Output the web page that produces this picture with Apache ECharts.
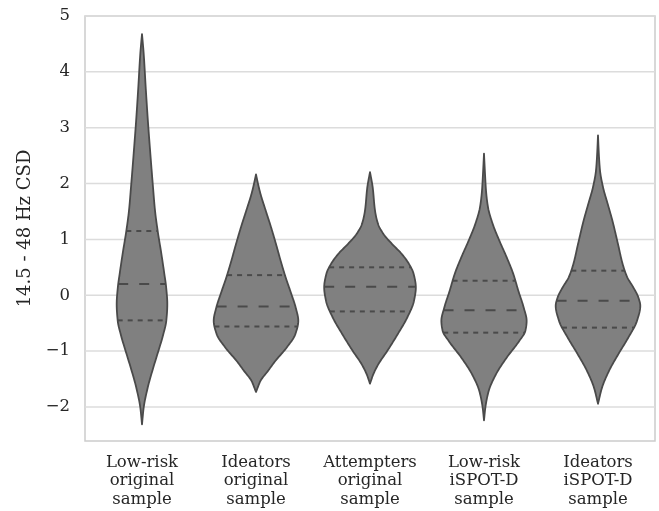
<!DOCTYPE html>
<html>
<head>
<meta charset="utf-8">
<script src="https://cdn.jsdelivr.net/npm/echarts@6/dist/echarts.min.js"></script>
<style>
html,body{margin:0;padding:0;background:#fff;}
#chart{width:659px;height:511px;}
</style>
</head>
<body>
<div id="chart"></div>
<script>
// Categories (x tick labels)
const categories = [
  'Low-risk\noriginal\nsample',
  'Ideators\noriginal\nsample',
  'Attempters\noriginal\nsample',
  'Low-risk\niSPOT-D\nsample',
  'Ideators\niSPOT-D\nsample'
];

// Y tick values
const yTicks = [-2, -1, 0, 1, 2, 3, 4, 5];

// Density profiles: [value, half-width as fraction of category band]
const lowRiskOriginal = [[4.677,0],[4.330,0.0146],[3.731,0.0322],[3.133,0.0512],[2.535,0.0731],[1.935,0.0965],[1.517,0.114],[1.158,0.137],[0.740,0.170],[0.381,0.196],[0.140,0.212],[-0.158,0.222],[-0.458,0.213],[-0.697,0.187],[-1.056,0.135],[-1.296,0.099],[-1.655,0.050],[-2.014,0.0146],[-2.312,0]];
const ideatorsOriginal = [[2.163,0],[1.996,0.0175],[1.817,0.039],[1.517,0.085],[1.217,0.132],[0.919,0.175],[0.619,0.216],[0.320,0.260],[0.022,0.310],[-0.219,0.348],[-0.458,0.371],[-0.697,0.345],[-0.937,0.269],[-1.176,0.170],[-1.355,0.105],[-1.535,0.039],[-1.655,0.0146],[-1.733,0]];
const attemptersOriginal = [[2.205,0],[1.935,0.0234],[1.517,0.0439],[1.278,0.0702],[1.099,0.117],[0.919,0.193],[0.740,0.278],[0.560,0.342],[0.381,0.383],[0.140,0.402],[-0.099,0.386],[-0.398,0.327],[-0.697,0.243],[-0.996,0.152],[-1.236,0.073],[-1.415,0.029],[-1.583,0]];
const lowRiskISPOT = [[2.535,0],[2.176,0.0088],[1.876,0.0175],[1.576,0.0351],[1.278,0.076],[0.978,0.1345],[0.679,0.199],[0.381,0.257],[0.081,0.301],[-0.219,0.348],[-0.458,0.374],[-0.637,0.363],[-0.817,0.310],[-1.117,0.199],[-1.415,0.105],[-1.715,0.041],[-2.014,0.0117],[-2.240,0]];
const ideatorsISPOT = [[2.864,0],[2.535,0.0073],[2.235,0.0175],[1.935,0.0439],[1.637,0.0848],[1.338,0.126],[0.919,0.175],[0.560,0.216],[0.320,0.257],[0.140,0.310],[-0.039,0.354],[-0.189,0.371],[-0.458,0.342],[-0.758,0.266],[-1.056,0.178],[-1.355,0.0965],[-1.655,0.0351],[-1.943,0]];

// Quartiles per category
const q1Values = [-0.45, -0.56, -0.29, -0.67, -0.58];
const medianValues = [0.20, -0.20, 0.15, -0.27, -0.10];
const q3Values = [1.15, 0.36, 0.50, 0.26, 0.44];

const profiles = [lowRiskOriginal, ideatorsOriginal, attemptersOriginal, lowRiskISPOT, ideatorsISPOT];

// Monotone cubic (PCHIP) smoothing of a profile for drawing
function makeInterp(prof) {
  const pts = prof.slice().sort((a, b) => a[0] - b[0]);
  const xs = pts.map(p => p[0]), ys = pts.map(p => p[1]);
  const n = xs.length;
  const h = [], d = [];
  for (let k = 0; k < n - 1; k++) { h.push(xs[k + 1] - xs[k]); d.push((ys[k + 1] - ys[k]) / h[k]); }
  const m = new Array(n).fill(0);
  m[0] = d[0]; m[n - 1] = d[n - 2];
  for (let k = 1; k < n - 1; k++) {
    if (d[k - 1] * d[k] <= 0) { m[k] = 0; }
    else {
      const w1 = 2 * h[k] + h[k - 1], w2 = h[k] + 2 * h[k - 1];
      m[k] = (w1 + w2) / (w1 / d[k - 1] + w2 / d[k]);
    }
  }
  const f = function (x) {
    if (x <= xs[0]) return ys[0];
    if (x >= xs[n - 1]) return ys[n - 1];
    let k = 0;
    while (k < n - 2 && x > xs[k + 1]) k++;
    const t = (x - xs[k]) / h[k];
    const t2 = t * t, t3 = t2 * t;
    return (2 * t3 - 3 * t2 + 1) * ys[k] + (t3 - 2 * t2 + t) * h[k] * m[k] +
      (-2 * t3 + 3 * t2) * ys[k + 1] + (t3 - t2) * h[k] * m[k + 1];
  };
  f.lo = xs[0]; f.hi = xs[n - 1];
  return f;
}
const interps = profiles.map(makeInterp);

const FONT = 'DejaVu Serif';
const TEXT = '#262626';
const EDGE = '#4a4a4a';
const FS = 16.5;

const chart = echarts.init(document.getElementById('chart'), null, {renderer: 'canvas'});

function violinRender(params, api) {
  const i = api.value(0);
  const f = interps[i];
  const band = api.size([1, 0])[0];
  const cx = api.coord([i, 0])[0];
  const N = 200;
  const right = [], left = [];
  for (let s = 0; s <= N; s++) {
    const v = f.hi - (f.hi - f.lo) * s / N;
    const w = Math.max(0, f(v)) * band;
    const y = api.coord([i, v])[1];
    right.push([cx + w, y]);
    left.unshift([cx - w, y]);
  }
  const children = [{
    type: 'polygon',
    shape: {points: right.concat(left)},
    style: {fill: '#808080', stroke: EDGE, lineWidth: 1.8, lineJoin: 'round'}
  }];
  const qs = [
    [q1Values[i], [5, 5]],
    [medianValues[i], [10, 11]],
    [q3Values[i], [5, 5]]
  ];
  qs.forEach(q => {
    const w = f(q[0]) * band;
    const y = api.coord([i, q[0]])[1];
    children.push({
      type: 'line',
      shape: {x1: cx - w, y1: y, x2: cx + w, y2: y},
      style: {stroke: EDGE, lineWidth: 2, lineDash: q[1]}
    });
  });
  return {type: 'group', children: children};
}

function gridRender(params, api) {
  const v = api.value(0);
  const cs = params.coordSys;
  const y = api.coord([0, v])[1];
  return {
    type: 'line',
    shape: {x1: cs.x, y1: y, x2: cs.x + cs.width, y2: y},
    style: {stroke: '#dcdcdc', lineWidth: 1.5}
  };
}

chart.setOption({
  animation: false,
  backgroundColor: '#ffffff',
  grid: {
    left: 85, right: 4, top: 16, bottom: 70,
    show: true, borderColor: '#cccccc', borderWidth: 1.5, backgroundColor: 'transparent'
  },
  xAxis: {
    type: 'category',
    data: categories,
    axisLine: {show: false},
    axisTick: {show: false},
    splitLine: {show: false},
    axisLabel: {
      interval: 0, margin: 12, fontFamily: FONT, fontSize: FS, color: TEXT,
      lineHeight: 18.5, align: 'center'
    }
  },
  yAxis: {
    type: 'value',
    min: -2.61, max: 5,
    axisLine: {show: false},
    axisTick: {show: false},
    splitLine: {show: false},
    axisLabel: {
      customValues: yTicks,
      margin: 15, fontFamily: FONT, fontSize: FS, color: TEXT,
      formatter: v => (v < 0 ? '\u2212' + Math.abs(v) : String(v))
    },
    name: '14.5 - 48 Hz CSD',
    nameLocation: 'middle',
    nameGap: 51,
    nameRotate: 90,
    nameTextStyle: {fontFamily: FONT, fontSize: 18, color: TEXT}
  },
  series: [
    {
      type: 'custom',
      z: 1,
      silent: true,
      renderItem: gridRender,
      data: yTicks.map(v => [v]),
      encode: {y: 0}
    },
    {
      type: 'custom',
      z: 5,
      silent: true,
      renderItem: violinRender,
      data: categories.map((c, i) => [i]),
      encode: {x: 0}
    }
  ]
});
</script>
</body>
</html>
